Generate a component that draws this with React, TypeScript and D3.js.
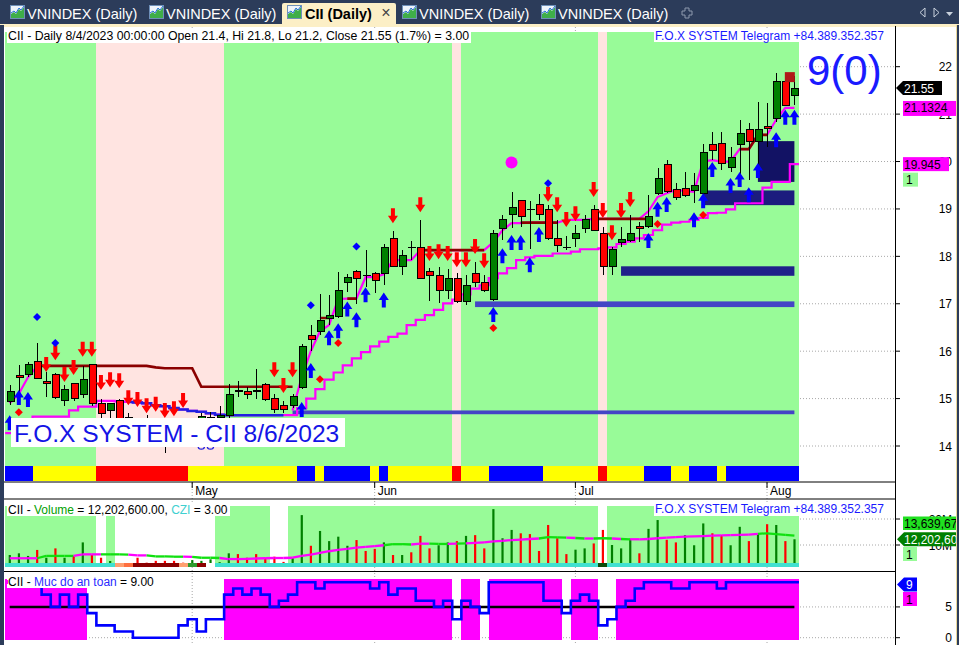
import React from 'react';
import * as d3 from 'd3';

const FONT = 'Liberation Sans, Arial, Helvetica, sans-serif';
const _ = null;
const N = 87;

// daily candles, Apr 3 -> Aug 4 2023
const opens = [14.93, 15.49, 15.5, 15.79, 15.35, 15.5, 14.95, 15.31, 15.09, 15.71,
  14.9, 14.74, 14.95, 14.6, 14.45, 14.55, 14.4, 14.3, 14.25, 14.4,
  14.35, 14.57, 14.58, 14.61, 14.65, 15.16, 15.16, 15.16, 15.3, 15.01,
  14.86, 14.86, 15.24, 16.34, 16.41, 16.69, 16.73, 17.44, 17.69, 17.6,
  17.64, 17.64, 18.38, 17.78, 18.19, 18.19, 17.69, 17.6, 17.27, 17.54,
  17.04, 17.64, 17.45, 17.09, 18.59, 18.89, 19.18, 18.99, 19.1, 18.99,
  18.38, 18.19, 18.38, 18.59, 18.99, 18.49, 17.78, 18.3, 18.33, 18.64,
  18.62, 19.33, 19.94, 19.4, 19.43, 19.38, 19.33, 20.35, 20.38, 19.88,
  20.35, 20.68, 20.43, 20.73, 20.9, 21.68, 21.4];
const highs = [15.28, 15.7, 15.78, 16.17, 15.56, 15.55, 15.28, 15.33, 15.68, 15.72,
  15.0, 14.85, 15.0, 14.7, 14.6, 14.65, 14.55, 14.45, 14.5, 14.55,
  14.6, 14.7, 14.72, 14.85, 15.3, 15.38, 15.25, 15.62, 15.32, 15.1,
  14.95, 15.1, 16.15, 16.55, 17.2, 17.18, 17.68, 17.62, 17.71, 18.13,
  17.66, 18.27, 18.53, 18.13, 18.32, 18.77, 17.75, 17.77, 17.73, 17.64,
  17.6, 17.89, 17.6, 18.55, 18.87, 19.36, 19.19, 19.17, 19.31, 19.08,
  18.77, 18.43, 18.66, 18.87, 19.08, 18.62, 18.2, 18.62, 18.87, 18.73,
  19.29, 19.86, 20.03, 19.54, 19.78, 19.75, 20.38, 20.62, 20.63, 20.31,
  20.88, 20.81, 21.26, 21.23, 21.86, 21.72, 21.8];
const lows = [14.86, 15.03, 15.45, 15.42, 15.04, 15.0, 14.85, 14.95, 15.01, 14.85,
  14.6, 14.6, 14.35, 14.3, 14.3, 14.25, 14.1, 13.85, 14.15, 14.2,
  14.2, 14.4, 14.45, 14.5, 14.6, 15.03, 15.0, 15.0, 14.95, 14.7,
  14.7, 14.8, 15.2, 16.0, 16.35, 16.55, 16.7, 17.25, 17.0, 17.36,
  17.22, 17.39, 17.78, 17.61, 17.92, 17.54, 17.06, 17.01, 17.11, 17.01,
  16.97, 17.36, 17.25, 17.05, 18.34, 18.6, 18.62, 18.15, 18.76, 18.34,
  18.09, 18.13, 18.2, 18.49, 18.53, 17.61, 17.61, 18.2, 18.31, 18.31,
  18.59, 19.29, 19.33, 19.19, 19.26, 19.12, 19.26, 20.03, 19.82, 19.78,
  19.68, 19.61, 19.75, 20.31, 20.84, 21.19, 21.2];
const closes = [15.16, 15.45, 15.71, 15.43, 15.31, 15.03, 15.2, 15.01, 15.41, 14.9,
  14.69, 14.9, 14.45, 14.4, 14.55, 14.35, 14.3, 14.2, 14.4, 14.3,
  14.45, 14.62, 14.6, 14.65, 15.09, 15.16, 15.09, 15.16, 14.99, 14.76,
  14.76, 15.04, 16.09, 16.25, 16.64, 16.75, 17.29, 17.55, 17.54, 17.6,
  17.5, 18.19, 17.78, 18.01, 18.19, 17.54, 17.59, 17.27, 17.54, 17.04,
  17.39, 17.44, 17.27, 18.49, 18.78, 19.03, 18.84, 18.99, 18.89, 18.38,
  18.22, 18.19, 18.49, 18.78, 18.54, 17.78, 18.15, 18.35, 18.49, 18.59,
  18.85, 19.65, 19.36, 19.24, 19.29, 19.49, 20.19, 20.24, 19.95, 20.09,
  20.59, 20.43, 20.68, 20.69, 21.68, 21.19, 21.55];

// indicator lines (null = not drawn)
const fastStop = [14.9, 15.1, 15.45, 15.68, _, _, _, _, _, _,
  _, _, _, _, _, _, _, _, _, _,
  _, _, _, _, _, _, _, _, _, _,
  _, 14.75, 15.45, 16.0, 16.42, 16.55, 17.1, 17.11, 17.11, 17.56,
  17.56, 17.62, 17.92, 17.92, 17.92, 18.13, 18.13, 18.13, 18.13, 18.13,
  18.13, 18.13, 18.13, 18.3, 18.55, 18.7, 18.7, 18.71, 18.71, 18.71,
  18.71, 18.77, 18.77, 18.77, 18.79, 18.79, 18.79, 18.79, 18.79, 18.79,
  18.95, 19.25, 19.33, 19.4, 19.38, 19.36, 20.0, 20.03, 20.0, 20.0,
  20.26, 20.26, 20.56, 20.56, 20.88, 21.13, 21.13];
const resist = [_, _, _, 15.69, 15.69, 15.69, 15.69, 15.69, 15.69, 15.69,
  15.69, 15.69, 15.69, 15.69, 15.69, 15.69, 15.66, 15.64, 15.64, 15.64,
  15.64, 15.25, 15.25, 15.25, 15.25, 15.25, 15.25, 15.25, 15.25, 15.25,
  15.25, 15.25, _, _, 16.7, 16.7, _, 17.11, 17.11, _,
  _, _, _, _, _, 18.13, 18.13, 18.13, 18.13, 18.13,
  18.13, 18.13, 18.13, _, _, _, 18.71, 18.71, 18.71, 18.71,
  18.71, _, _, _, 18.79, 18.79, 18.79, 18.79, 18.79, 18.79,
  18.79, _, _, _, _, _, _, _, _, _,
  20.26, 20.26, 20.56, 20.56, _, _, _];
const slowStop = [14.27, 14.27, 14.45, 14.62, 14.62, 14.62, 14.62, 14.75, 14.83, 14.83,
  14.95, 14.95, 14.94, 14.93, 14.92, 14.9, 14.86, 14.84, 14.8, 14.77,
  14.74, 14.72, 14.69, 14.66, 14.65, 14.65, 14.65, 14.65, 14.65, 14.65,
  14.65, 14.65, 14.8, 15.0, 15.2, 15.4, 15.55, 15.7, 15.85, 15.98,
  16.1, 16.2, 16.3, 16.37, 16.55, 16.66, 16.76, 16.87, 17.01, 17.09,
  17.2, 17.32, 17.39, 17.54, 17.64, 17.75, 17.92, 17.98, 18.01, 18.01,
  18.06, 18.06, 18.1, 18.15, 18.15, 18.17, 18.19, 18.26, 18.31, 18.38,
  18.45, 18.55, 18.67, 18.71, 18.73, 18.77, 18.81, 18.91, 18.92, 18.99,
  19.12, 19.12, 19.12, 19.45, 19.57, 19.57, 19.945];
const downStop = [_, _, _, _, _, _, _, _, _, _,
  _, _, _, 14.93, 14.92, 14.9, 14.86, 14.84, 14.8, 14.77,
  14.74, 14.72, 14.69, 14.66, 14.65, 14.65, 14.65, 14.65, 14.65, 14.65,
  14.65, _, _, _, _, _, _, _, _, _,
  _, _, _, _, _, _, _, _, _, _,
  _, _, _, _, _, _, _, _, _, _,
  _, _, _, _, _, _, _, _, _, _,
  _, _, _, _, _, _, _, _, _, _,
  _, _, _, _, _, _, _];

// volume (millions)
const volumes = [6.15, 6.8, 5.8, 8.1, 5.1, 8.7, 5.1, 5.8, 11.0, 6.15,
  5.1, 3.85, 2.5, 2.2, 5.1, 3.2, 3.9, 3.9, 3.9, 3.2,
  4.2, 3.9, 4.5, 3.4, 6.8, 6.5, 5.1, 6.5, 4.9, 5.5,
  3.5, 4.9, 21.5, 9.7, 15.4, 11.5, 13.2, 9.7, 11.9, 7.7,
  8.5, 11.0, 6.15, 6.15, 7.2, 13.5, 8.7, 9.9, 11.0, 11.5,
  13.5, 13.8, 8.7, 23.8, 12.6, 15.8, 14.5, 14.2, 7.7, 17.7,
  12.6, 6.5, 8.2, 8.7, 10.6, 15.8, 10.0, 8.7, 12.4, 6.8,
  16.2, 19.6, 12.0, 11.0, 13.8, 9.9, 18.3, 14.5, 13.8, 9.9,
  17.0, 11.5, 14.2, 18.0, 17.7, 11.5, 12.2026];
const volColors = ('gggrgrgrgr' + 'rgrrrrrrrr' + 'gggggrrrrr' + 'rggrggggrr' + 'rgrgrrrggr' +
  'grrgggrrrr' + 'rrggrrgggr' + 'ggrrgggrrg' + 'grgrgrg').split('');
const volMA = [4.9, 4.9, 4.9, 4.9, 5.8, 5.8, 5.8, 5.8, 6.4, 6.4,
  6.4, 6.4, 6.4, 6.3, 6.0, 6.0, 5.6, 5.6, 5.5, 5.5,
  5.4, 5.1, 5.1, 5.0, 4.6, 4.6, 4.7, 4.8, 4.9, 5.0,
  5.0, 5.1, 5.8, 6.3, 7.0, 7.6, 8.1, 8.5, 9.0, 9.3,
  9.6, 9.9, 10.3, 10.3, 10.2, 10.5, 10.5, 10.4, 10.4, 10.5,
  10.6, 10.8, 11.0, 11.4, 11.6, 11.9, 12.1, 12.3, 12.5, 13.0,
  12.9, 12.8, 12.7, 12.5, 12.5, 12.6, 12.5, 12.3, 12.2, 12.2,
  12.3, 12.6, 12.8, 13.0, 13.2, 13.3, 13.4, 13.6, 13.7, 13.8,
  13.9, 14.0, 14.3, 14.5, 14.2, 13.9, 13.64];
const volMAColors = ('mmmmggggmm' + 'mgggmmgggg' + 'mgggmmmmmm' + 'mmmmmmmmmm' + 'mmgggmmggm' +
  'gmmmmmmmmg' + 'ggmgmggmgm' + 'mmmmmmmmmm' + 'mmmgggg').split('');

// "Muc do an toan"
const safety = [9, 9, 9, 9, 7, 5, 7, 5, 7, 4,
  2, 2, 1, 1, 0, 0, 0, 0, 0, 2,
  3, 1, 3, 3, 7, 8, 7, 8, 7, 5,
  6, 7, 9, 9, 8, 9, 9, 9, 9, 9,
  8, 9, 7, 8, 8, 6, 6, 5, 6, 3,
  6, 5, 4, 9, 9, 9, 9, 9, 9, 6,
  6, 4, 6, 7, 6, 2, 3, 5, 6, 8,
  9, 9, 9, 8, 8, 9, 9, 9, 8, 9,
  9, 9, 9, 9, 9, 9, 9];

const monthTicks = [{ i: 20, label: 'May' }, { i: 40, label: 'Jun' }, { i: 62, label: 'Jul' }, { i: 83, label: 'Aug' }];
const priceTicks = [14, 15, 16, 17, 18, 19, 20, 21, 22];
const volTicks = [{ v: 10, label: '10M' }, { v: 20, label: '20M' }];
const safetyTicks = [0, 5];

// run-length colour strips
const mainBgRuns: [number, string][] = [[10, 'g'], [14, 'p'], [25, 'g'], [1, 'p'], [15, 'g'], [1, 'p'], [21, 'g']];
const trendRuns: [number, string][] = [[3, 'b'], [7, 'y'], [10, 'r'], [12, 'y'], [2, 'b'], [1, 'y'], [5, 'b'], [1, 'y'], [1, 'b'],
  [7, 'y'], [1, 'r'], [3, 'y'], [6, 'b'], [6, 'y'], [1, 'r'], [4, 'y'], [3, 'b'], [2, 'y'], [3, 'b'], [1, 'y'], [8, 'b']];
const volBgRuns: [number, string][] = [[10, 'g'], [1, 'w'], [1, 'g'], [11, 'w'], [6, 'g'], [2, 'w'], [34, 'g'], [1, 'w'], [21, 'g']];
const cziRuns: [number, string][] = [[12, 'c'], [1, 'o'], [1, 'O'], [5, 'd'], [1, 'o'], [1, 'G'], [1, 'd'], [1, 'w'], [42, 'c'], [1, 'k'], [21, 'c']];

// signal markers [bar, price]
const downArrows = [[4, 15.56], [5, 15.81], [6, 15.35], [7, 15.5], [8, 15.88], [9, 15.88], [10, 15.18], [11, 15.24], [12, 15.22],
  [13, 14.86], [14, 14.82], [15, 14.69], [16, 14.72], [17, 14.59], [18, 14.63], [19, 14.8], [29, 15.45], [30, 15.12], [31, 15.45],
  [42, 18.7], [45, 18.93], [46, 17.9], [47, 17.94], [48, 17.9], [49, 17.77], [50, 17.77], [51, 18.05], [52, 17.75],
  [59, 19.15], [60, 18.93], [61, 18.62], [62, 18.74], [64, 19.25], [65, 18.81], [66, 18.34], [67, 18.81], [68, 19.04]];
const upArrows = [[0, 14.65], [1, 15.18], [2, 15.14], [32, 14.93], [33, 15.75], [35, 16.44], [36, 16.59], [37, 17.05], [38, 16.82],
  [39, 17.35], [41, 17.24], [53, 16.93], [54, 18.17], [55, 18.45], [56, 18.45], [57, 17.98], [58, 18.62], [70, 18.49], [71, 19.15],
  [72, 19.25], [75, 18.93], [76, 19.33], [77, 19.99], [79, 19.65], [80, 19.78], [81, 19.46], [82, 19.97], [84, 20.62], [85, 21.09], [86, 21.09]];
const blueDiamonds = [[3, 16.72], [5, 16.17], [33, 16.97], [38, 18.21], [59, 19.54]];
const redDiamonds = [[1, 14.71], [34, 15.41], [36, 16.17], [53, 16.49], [71, 18.68], [76, 18.87]];
const hollowCircles = [[21, 14.0], [22, 14.0]];
const magentaDots = [[55, 19.98]];
const sellSquares = [[85.5, 21.78]];

// support / resistance zones
const zoneFrom = [31, 51, 67, 76, 82];
const zoneTop = [14.75, 17.05, 17.79, 19.39, 20.43];
const zoneBottom = [14.67, 16.93, 17.59, 19.08, 19.57];
const zoneColors = ['#4444c6', '#4444c6', '#20208a', '#1c1c7e', '#121264'];

const palette: Record<string, string> = {
  g: '#98fb98', p: '#ffe4e1', b: '#0000ff', y: '#ffff00', r: '#ff0000', w: '#ffffff',
  c: '#40e0d0', o: '#ffa070', O: '#ff7040', d: '#8b0000', G: '#2e9b2e', k: '#0b4d0b', m: '#ff00ff',
};

const expand = (runs: [number, string][]) => runs.flatMap(([n, c]) => Array(n).fill(c) as string[]);
const spans = (seq: string[]) => {
  const out: { from: number; to: number; c: string }[] = [];
  let s = 0;
  for (let i = 1; i <= seq.length; i++) {
    if (i === seq.length || seq[i] !== seq[s]) { out.push({ from: s, to: i - 1, c: seq[s] }); s = i; }
  }
  return out;
};

const TabIcon = ({ x }: { x: number }) => (
  <g transform={`translate(${x},5)`}>
    <rect x={0.5} y={0.5} width={14} height={13} fill="#eef4fb" stroke="#6e8fb8" />
    <path d="M1,13 L1,9 L4,7 L6,9 L9,4 L11,6 L14,2 L14,13 Z" fill="#3fae49" />
    <path d="M1,8 L4,6 L6,8 L9,3 L11,5 L14,1" fill="none" stroke="#2a6fd6" />
  </g>
);

export default function App() {
  const x = d3.scaleLinear().domain([0, N - 1]).range([9.7, 794.4]);
  const step = x(1) - x(0);
  const y = d3.scaleLinear().domain([14, 22]).range([446, 66.7]);
  const yV = d3.scaleLinear().domain([0, 20]).range([571, 519]);
  const yS = d3.scaleLinear().domain([0, 9]).range([637.7, 582.3]);
  const L = (i: number) => x(i) - step / 2;
  const R = (i: number) => x(i) + step / 2;

  const linePrice = d3.line<number | null>()
    .defined(d => d != null)
    .x((_d, i) => x(i))
    .y(d => y(d as number));
  const stepPts = (vals: (number | null)[]) => {
    const pts: [number, number | null][] = vals.map((v, i) => [x(i), v]);
    pts.unshift([L(0), vals[0]]);
    pts.push([R(N - 1), vals[N - 1]]);
    return pts;
  };
  const stairPrice = d3.line<[number, number | null]>()
    .defined(d => d[1] != null)
    .x(d => d[0]).y(d => y(d[1] as number)).curve(d3.curveStep);
  const stairSafe = d3.line<[number, number | null]>()
    .x(d => d[0]).y(d => yS(d[1] as number)).curve(d3.curveStep);

  const mainBg = spans(expand(mainBgRuns));
  const trend = spans(expand(trendRuns));
  const volBg = spans(expand(volBgRuns));
  const czi = spans(expand(cziRuns));
  const safeBg = spans(safety.map(v => (v >= 5 ? 'm' : 'w')));

  const upPath = (cx: number, t: number) =>
    `M${cx},${t} L${cx + 5},${t + 7.5} L${cx + 2},${t + 7.5} L${cx + 2},${t + 15} L${cx - 2},${t + 15} L${cx - 2},${t + 7.5} L${cx - 5},${t + 7.5} Z`;
  const downPath = (cx: number, t: number) =>
    `M${cx},${t} L${cx + 5},${t - 7.5} L${cx + 2},${t - 7.5} L${cx + 2},${t - 15} L${cx - 2},${t - 15} L${cx - 2},${t - 7.5} L${cx - 5},${t - 7.5} Z`;
  const diamond = (cx: number, cy: number) => `M${cx},${cy - 4} L${cx + 4},${cy} L${cx},${cy + 4} L${cx - 4},${cy} Z`;
  const tagLeft = (tip: number, cy: number, right: number) =>
    `M${tip},${cy} L${tip + 7},${cy - 7} L${right},${cy - 7} L${right},${cy + 7} L${tip + 7},${cy + 7} Z`;

  const navy = '#2c3c5a';
  const cream = '#fcefc6';
  const tabs = [{ x: 8, label: 'VNINDEX (Daily)' }, { x: 147, label: 'VNINDEX (Daily)' }, { x: 400, label: 'VNINDEX (Daily)' }, { x: 539, label: 'VNINDEX (Daily)' }];

  return (
    <svg width={959} height={645} style={{ position: 'fixed', left: 0, top: 0, background: '#fff' }} fontFamily={FONT}>
      <rect width={959} height={645} fill="#fff" />

      {/* tab strip */}
      <rect x={0} y={0} width={959} height={25} fill={navy} />
      <rect x={0} y={24} width={959} height={3} fill={cream} />
      {tabs.map((t, k) => (
        <g key={k}>
          <TabIcon x={t.x + 2} />
          <text x={t.x + 19} y={18.5} fontSize={14.5} fill="#fff">{t.label}</text>
        </g>
      ))}
      <path d="M282,27 L282,5 Q282,3 284,3 L394,3 Q396,3 396,5 L396,27 Z" fill={cream} />
      <TabIcon x={287} />
      <text x={305} y={18.5} fontSize={14.5} fontWeight="bold" fill="#000">CII (Daily)</text>
      <text x={386} y={18} fontSize={16} fill="#444" textAnchor="middle">×</text>
      <path d="M685,8 h4 v3 h3 v4 h-3 v3 h-4 v-3 h-3 v-4 h3 Z" fill="none" stroke="#8d99ad" />
      <path d="M925,8 L920,12.5 L925,17 Z" fill="none" stroke="#c8d0dc" />
      <path d="M934,8 L939,12.5 L934,17 Z" fill="none" stroke="#c8d0dc" />
      <path d="M946,12 L953,12 L949.5,16 Z" fill="#c8d0dc" />

      {/* grid */}
      {priceTicks.map(v => (
        <line key={v} x1={5} x2={895} y1={y(v)} y2={y(v)} stroke="#a8a8a8" strokeDasharray="1,2" />
      ))}
      {volTicks.map(t => (
        <line key={t.v} x1={5} x2={895} y1={yV(t.v)} y2={yV(t.v)} stroke="#a8a8a8" strokeDasharray="1,2" />
      ))}
      {safetyTicks.map(v => (
        <line key={v} x1={5} x2={895} y1={yS(v)} y2={yS(v)} stroke="#a8a8a8" strokeDasharray="1,2" />
      ))}
      {monthTicks.map(m => (
        <line key={m.label} x1={x(m.i)} x2={x(m.i)} y1={27} y2={645} stroke="#a8a8a8" strokeDasharray="1,2" />
      ))}

      {/* main panel backgrounds */}
      {mainBg.map((s, k) => (
        <rect key={k} x={L(s.from)} y={32} width={R(s.to) - L(s.from)} height={434} fill={palette[s.c]} shapeRendering="crispEdges" />
      ))}
      {trend.map((s, k) => (
        <rect key={k} x={L(s.from)} y={466} width={R(s.to) - L(s.from)} height={15} fill={palette[s.c]} shapeRendering="crispEdges" />
      ))}

      {/* zones */}
      {zoneFrom.map((f, k) => (
        <rect key={k} x={x(f)} y={y(zoneTop[k])} width={x(N - 1) - x(f)} height={y(zoneBottom[k]) - y(zoneTop[k])} fill={zoneColors[k]} />
      ))}

      {/* indicator lines */}
      <path d={stairPrice(stepPts(slowStop)) || ''} fill="none" stroke="#ff00ff" strokeWidth={2.2} />
      <path d={stairPrice(stepPts(downStop)) || ''} fill="none" stroke="#2020e0" strokeWidth={2.5} />
      <path d={linePrice(fastStop) || ''} fill="none" stroke="#ff00ff" strokeWidth={2.2} />
      <path d={linePrice(resist) || ''} fill="none" stroke="#8b0000" strokeWidth={2.7} />

      {/* hollow circles under the label */}
      {hollowCircles.map(([i, p], k) => (
        <circle key={k} cx={x(i)} cy={y(p)} r={3.2} fill="none" stroke="#2020e0" strokeWidth={1.3} />
      ))}

      {/* candles */}
      {closes.map((c, i) => {
        const o = opens[i];
        const cx = Math.round(x(i)) + 0.5;
        const yo = y(o), yc = y(c);
        const top = Math.min(yo, yc), h = Math.abs(yo - yc);
        return (
          <g key={i} shapeRendering="crispEdges">
            <line x1={cx} x2={cx} y1={y(highs[i])} y2={y(lows[i])} stroke="#000" />
            {h < 1
              ? <line x1={cx - 4} x2={cx + 4} y1={top} y2={top} stroke="#000" strokeWidth={1.5} />
              : <rect x={cx - 3.5} y={top} width={7} height={h} fill={c >= o ? '#008000' : '#ff0000'} stroke="#000" />}
          </g>
        );
      })}

      {/* markers */}
      {downArrows.map(([i, p], k) => <path key={k} d={downPath(x(i), y(p))} fill="#ff0000" />)}
      {upArrows.map(([i, p], k) => <path key={k} d={upPath(x(i), y(p))} fill="#0000ff" />)}
      {blueDiamonds.map(([i, p], k) => <path key={k} d={diamond(x(i), y(p))} fill="#0000ff" />)}
      {redDiamonds.map(([i, p], k) => <path key={k} d={diamond(x(i), y(p))} fill="#ff0000" />)}
      {magentaDots.map(([i, p], k) => <circle key={k} cx={x(i)} cy={y(p)} r={6} fill="#ff00ff" />)}
      {sellSquares.map(([i, p], k) => <rect key={k} x={x(i) - 5} y={y(p) - 5} width={10} height={10} fill="#b01818" />)}

      {/* main panel texts */}
      <rect x={7} y={29} width={464} height={14} fill="#fff" />
      <text x={8} y={40} fontSize={12.3} fill="#000">CII - Daily 8/4/2023 00:00:00 Open 21.4, Hi 21.8, Lo 21.2, Close 21.55 (1.7%)  = 3.00</text>
      <rect x={654} y={28} width={231} height={14} fill="#fff" />
      <text x={655} y={39.5} fontSize={12} fill="#1a1aff">F.O.X SYSTEM Telegram +84.389.352.357</text>
      <text x={807} y={85} fontSize={42} fill="#1a1aff">9(0)</text>
      <rect x={11} y={418} width={334} height={29} fill="#fff" />
      <text x={14} y={442} fontSize={24.6} fill="#1414e6">F.O.X SYSTEM - CII 8/6/2023</text>

      {/* x axis */}
      <line x1={4} x2={895} y1={482} y2={482} stroke="#000" />
      {monthTicks.map(m => (
        <g key={m.label}>
          <line x1={x(m.i)} x2={x(m.i)} y1={482} y2={488} stroke="#000" />
          <text x={x(m.i) + 3} y={495} fontSize={12} fill="#000">{m.label}</text>
        </g>
      ))}
      <line x1={4} x2={895} y1={499} y2={499} stroke="#000" />

      {/* volume panel */}
      {volBg.map((s, k) => (
        <rect key={k} x={L(s.from)} y={506} width={R(s.to) - L(s.from)} height={60.7} fill={palette[s.c]} shapeRendering="crispEdges" />
      ))}
      {volumes.map((v, i) => (
        <rect key={i} x={x(i) - 1} y={yV(v)} width={2.2} height={566.7 - yV(v)} fill={volColors[i] === 'g' ? '#008000' : '#ff0000'} />
      ))}
      {czi.map((s, k) => (
        <rect key={k} x={L(s.from)} y={563.3} width={R(s.to) - L(s.from)} height={3.4} fill={palette[s.c]} shapeRendering="crispEdges" />
      ))}
      {volMA.slice(1).map((v, k) => (
        <line key={k} x1={x(k)} x2={x(k + 1)} y1={yV(volMA[k])} y2={yV(v)}
          stroke={volMAColors[k + 1] === 'g' ? '#10e010' : '#ff00ff'} strokeWidth={2.3} />
      ))}
      <rect x={7} y={503} width={223} height={13} fill="#fff" />
      <text x={8} y={513.5} fontSize={12} fill="#000">
        CII - <tspan fill="#00a000">Volume</tspan> = 12,202,600.00, <tspan fill="#40d0d0">CZI</tspan> = 3.00
      </text>
      <rect x={654} y={502} width={231} height={14} fill="#fff" />
      <text x={655} y={513} fontSize={12} fill="#1a1aff">F.O.X SYSTEM Telegram +84.389.352.357</text>
      <line x1={4} x2={895} y1={571.5} y2={571.5} stroke="#000" />

      {/* safety panel */}
      {safeBg.filter(s => s.c === 'm').map((s, k) => (
        <rect key={k} x={L(s.from)} y={579} width={R(s.to) - L(s.from)} height={61} fill="#ff00ff" shapeRendering="crispEdges" />
      ))}
      <path d={d3.line<number>().x((_d, i) => x(i)).y(() => yS(5))(safety) || ''} stroke="#000" strokeWidth={2.5} fill="none" />
      <path d={stairSafe(stepPts(safety)) || ''} fill="none" stroke="#0000ff" strokeWidth={2.6} />
      <rect x={7} y={575} width={147} height={13} fill="#fff" />
      <rect x={5} y={580} width={3} height={4} fill="#ff00ff" />
      <text x={8} y={585.5} fontSize={12} fill="#000">
        CII - <tspan fill="#2a2aff">Muc do an toan</tspan> = 9.00
      </text>

      {/* right axis */}
      <line x1={895.5} x2={895.5} y1={26} y2={645} stroke="#000" />
      {priceTicks.map(v => (
        <g key={v}>
          <line x1={895} x2={900} y1={y(v)} y2={y(v)} stroke="#000" />
          <text x={952} y={y(v) + 4.5} fontSize={12} textAnchor="end" fill="#000">{v}</text>
        </g>
      ))}
      {volTicks.map(t => (
        <g key={t.v}>
          <line x1={895} x2={900} y1={yV(t.v)} y2={yV(t.v)} stroke="#000" />
          <text x={952} y={yV(t.v) + 4.5} fontSize={12} textAnchor="end" fill="#000">{t.label}</text>
        </g>
      ))}
      {safetyTicks.map(v => (
        <g key={v}>
          <line x1={895} x2={900} y1={yS(v)} y2={yS(v)} stroke="#000" />
          <text x={952} y={yS(v) + 4.5} fontSize={12} textAnchor="end" fill="#000">{v}</text>
        </g>
      ))}

      {/* value tags */}
      <path d={tagLeft(896, y(closes[N - 1]), 942)} fill="#000" />
      <text x={904} y={y(closes[N - 1]) + 4.5} fontSize={12} fill="#fff">21.55</text>
      <rect x={903} y={y(fastStop[N - 1] as number) - 7} width={53} height={15} fill="#ff00ff" />
      <text x={904} y={y(fastStop[N - 1] as number) + 4.5} fontSize={12} fill="#000">21.1324</text>
      <rect x={903} y={y(slowStop[N - 1]) - 7} width={46} height={14} fill="#ff00ff" />
      <text x={904} y={y(slowStop[N - 1]) + 4.5} fontSize={12} fill="#000">19.945</text>
      <rect x={903} y={y(slowStop[N - 1]) + 8.5} width={15} height={14} fill="#98fb98" />
      <text x={906} y={y(slowStop[N - 1]) + 20} fontSize={12} fill="#000">1</text>

      <rect x={903} y={516.5} width={56} height={13.5} fill="#20e020" />
      <text x={904} y={527.5} fontSize={12} fill="#000">13,639,675</text>
      <path d={tagLeft(897, yV(volumes[N - 1]), 959)} fill="#008000" />
      <text x={904} y={yV(volumes[N - 1]) + 4.5} fontSize={12} fill="#fff">12,202,600</text>
      <rect x={903} y={547} width={14} height={14} fill="#98fb98" />
      <text x={906} y={558.5} fontSize={12} fill="#000">1</text>

      <path d={tagLeft(897, 584.5, 917)} fill="#0000ff" />
      <text x={906} y={589} fontSize={12} fill="#fff">9</text>
      <rect x={903} y={592} width={14} height={14} fill="#ff00ff" />
      <text x={906} y={603.5} fontSize={12} fill="#000">1</text>

      {/* window frame */}
      <rect x={0} y={25} width={4} height={620} fill={navy} />
      <rect x={956} y={25} width={1} height={620} fill="#e9d79a" />
      <rect x={957} y={25} width={2} height={620} fill={navy} />
    </svg>
  );
}
